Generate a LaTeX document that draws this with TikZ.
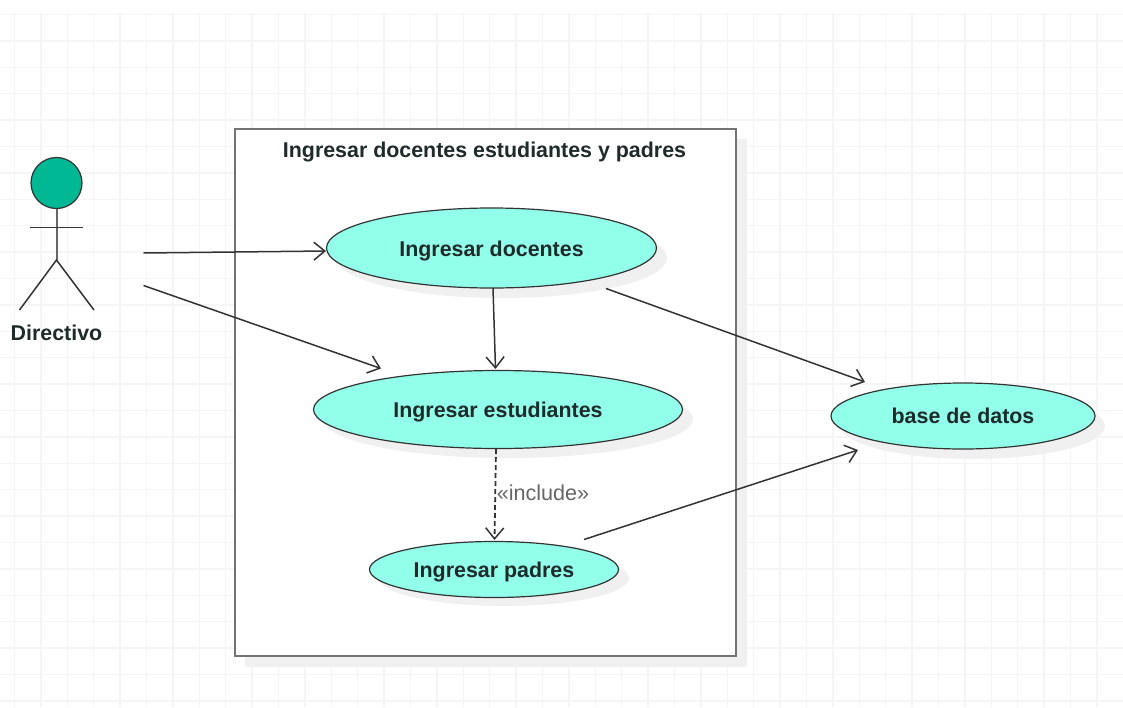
\documentclass[tikz,border=0pt]{standalone}
\usepackage{fontspec}
\setmainfont{Liberation Sans}
\usetikzlibrary{arrows.meta}
\usetikzlibrary{shapes.geometric}
\definecolor{gridc}{HTML}{F5F5F5}
\definecolor{ucfill}{HTML}{92FFEA}
\definecolor{actfill}{HTML}{00B894}
\definecolor{shadowc}{HTML}{F0F0F0}
\definecolor{inkc}{HTML}{333333}
\definecolor{labc}{HTML}{1F2A2A}
\newcommand{\nudged}[1]{\raisebox{-2pt}[0.8em][0.2em]{#1}}
\tikzset{
 usecase/.style={ellipse,draw=inkc,fill=ucfill,line width=1.2pt,inner sep=0pt,font=\fontsize{21.4}{25}\selectfont\bfseries,text=labc},
 ucshadow/.style={fill=shadowc,draw=none},
 conn/.style={draw=inkc,line width=1.5pt,-{Straight Barb[length=11pt,width=18pt,line width=1.5pt]}},
 bodyline/.style={draw=inkc,line width=1.5pt},
 plainlabel/.style={font=\fontsize{21.4}{25}\selectfont\bfseries,text=labc,inner sep=0pt},
}
\begin{document}
\begin{tikzpicture}[x=1pt,y=-1pt]
\useasboundingbox (0,0) rectangle (1123,707);
% grid
\foreach \i in {0,...,41} {\draw[gridc,line width=1.5pt] ({14.5+26.4*\i},13) -- ({14.5+26.4*\i},707);}
\foreach \j in {0,...,26} {\draw[gridc,line width=1.5pt] (0,{14.5+26.4*\j}) -- (1123,{14.5+26.4*\j});}
% system boundary
\fill[shadowc] (245,139) rectangle (747,667);
\node[draw=black!55,fill=white,line width=2.4pt,minimum width=501pt,minimum height=527pt,inner sep=0pt,anchor=north west] (sys) at (233.5,128) {};
\node[plainlabel] (title) at (484.5,152) {Ingresar docentes estudiantes y padres};
% shadows
\fill[ucshadow] (502,258) ellipse [x radius=165pt,y radius=40pt];
\fill[ucshadow] (508,419) ellipse [x radius=185pt,y radius=39pt];
\fill[ucshadow] (504,578) ellipse [x radius=125pt,y radius=28pt];
\fill[ucshadow] (973,426) ellipse [x radius=132pt,y radius=33pt];
% use cases
\node[usecase,minimum width=330pt,minimum height=80pt] (doc) at (491.5,248) {\nudged{Ingresar docentes}};
\node[usecase,minimum width=369pt,minimum height=78pt] (est) at (498,409.5) {\nudged{Ingresar estudiantes}};
\node[usecase,minimum width=249pt,minimum height=56pt] (pad) at (494,569.5) {\nudged{Ingresar padres}};
\node[usecase,minimum width=264pt,minimum height=66pt] (bd) at (963,416) {base de datos};
% actor
\node[circle,draw=inkc,fill=actfill,line width=1.2pt,minimum size=51pt,inner sep=0pt] (head) at (56.5,183) {};
\coordinate (hip) at (56.5,260);
\coordinate (armL) at (30,227.5);
\coordinate (armR) at (83,227.5);
\coordinate (legL) at (19.5,310);
\coordinate (legR) at (94,310);
\draw[bodyline,draw=black!60,line width=2pt] (head) -- (hip);
\draw[bodyline] (armL) -- (armR);
\draw[bodyline] (legL) -- (hip) -- (legR);
\node[plainlabel] (actlab) at (56.5,333) {Directivo};
% connectors
\coordinate (a1) at (143.5,253);
\coordinate (a2) at (143.5,285.5);
\coordinate (b1) at (606,288.5);
\coordinate (b2) at (584,539.5);
\coordinate (t1) at (326,251);
\coordinate (t2) at (381,368.5);
\coordinate (t3) at (865,382);
\coordinate (t4) at (858,450);
\coordinate (s1) at (493,288);
\coordinate (t5) at (495.5,369);
\coordinate (s2) at (496,449);
\coordinate (t6) at (494.5,540);
\draw[conn] (a1) -- (t1);
\draw[conn] (a2) -- (t2);
\draw[conn] (s1) -- (t5);
\draw[conn] (b1) -- (t3);
\draw[conn] (b2) -- (t4);
\draw[conn,line width=1.8pt,dash pattern=on 5pt off 3pt] (s2) -- (t6);
\node[font=\fontsize{21.6}{25}\selectfont,text=black!60,inner sep=0pt] (inc) at (543,493) {«include»};
\end{tikzpicture}
\end{document}
